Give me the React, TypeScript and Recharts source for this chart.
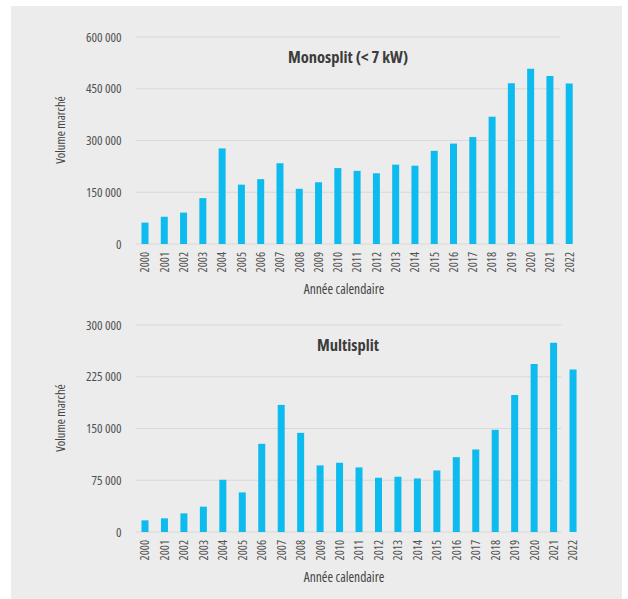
import React from 'react';
import { BarChart, Bar, XAxis, YAxis, CartesianGrid } from 'recharts';

// market volume per calendar year
const years = [
  '2000', '2001', '2002', '2003', '2004', '2005', '2006', '2007', '2008', '2009', '2010', '2011',
  '2012', '2013', '2014', '2015', '2016', '2017', '2018', '2019', '2020', '2021', '2022',
];
const monosplit = [
  62000, 79000, 91000, 133000, 277000, 172000, 188000, 234000, 160000, 179000, 220000, 212000,
  205000, 230000, 227000, 270000, 291000, 310000, 369000, 466000, 508000, 487000, 465000,
];
const multisplit = [
  16900, 19800, 27000, 36700, 75700, 57400, 127800, 184200, 143700, 96500, 100300, 93600,
  78600, 80100, 77600, 89200, 108500, 119600, 148100, 198700, 243600, 274400, 235400,
];
const monoTicks = [0, 150000, 300000, 450000, 600000];
const multiTicks = [0, 75000, 150000, 225000, 300000];

const FONT = "'Open Sans', 'DejaVu Sans Condensed', sans-serif";
const NARROW: React.CSSProperties = { fontFamily: FONT, fontStretch: '75%' };
const BAR = '#0dbbee';

const fmt = (n: number) => String(n).replace(/\B(?=(\d{3})+(?!\d))/g, ' ');

const YearTick = (props: any) => {
  const { x, y, payload } = props;
  return (
    <g transform={`translate(${x},${y + 8})`}>
      <text transform="rotate(-90)" textAnchor="end" dy="0.35em" fontSize={12} fill="#505050" style={NARROW}>
        {payload.value}
      </text>
    </g>
  );
};

const ValueTick = (props: any) => {
  const { x, y, payload } = props;
  return (
    <text x={x} y={y} dy="0.35em" textAnchor="end" fontSize={13} fill="#505050" style={NARROW}>
      {fmt(payload.value)}
    </text>
  );
};

interface PanelProps {
  title: string;
  values: number[];
  ticks: number[];
  top: number;
  right: number;
  gridWidth: number;
}

const Panel = ({ title, values, ticks, top, right, gridWidth }: PanelProps) => {
  const data = years.map((year, i) => ({ year, value: values[i] }));
  return (
    <>
      <div style={{ position: 'absolute', left: 0, top }}>
        <BarChart width={628} height={300} data={data} margin={{ top: 37, right, bottom: 0, left: 80 }}>
          <CartesianGrid vertical={false} x={135.5} width={gridWidth} stroke="#d8d8d8" />
          <XAxis
            dataKey="year"
            height={56}
            axisLine={false}
            tickLine={false}
            tickSize={0}
            tickMargin={0}
            interval={0}
            tick={<YearTick />}
          />
          <YAxis
            width={55.5}
            domain={[0, ticks[ticks.length - 1]]}
            ticks={ticks}
            axisLine={false}
            tickLine={false}
            tickSize={0}
            tickMargin={14}
            tick={<ValueTick />}
          />
          <Bar dataKey="value" fill={BAR} barSize={7} isAnimationActive={false} />
        </BarChart>
      </div>
      <div style={{ ...NARROW, position: 'absolute', left: 348, top: top + 56, transform: 'translate(-50%,-50%)', fontWeight: 'bold', fontSize: 16.5, color: '#3c3c3c', whiteSpace: 'nowrap' }}>
        {title}
      </div>
      <div style={{ ...NARROW, position: 'absolute', left: 344, top: top + 289, transform: 'translate(-50%,-50%)', fontSize: 13.5, color: '#444', whiteSpace: 'nowrap' }}>
        Année calendaire
      </div>
      <div style={{ ...NARROW, position: 'absolute', left: 60, top: top + 130, transform: 'translate(-50%,-50%) rotate(-90deg)', fontSize: 12.5, color: '#444', whiteSpace: 'nowrap' }}>
        Volume marché
      </div>
    </>
  );
};

export default function App() {
  return (
    <div style={{ position: 'absolute', left: 0, top: 0, width: 628, height: 599, background: '#fff', overflow: 'hidden' }}>
      <div style={{ position: 'absolute', left: 11, top: 6, width: 611, height: 593, background: '#ececec' }} />
      <Panel title="Monosplit (< 7 kW)" values={monosplit} ticks={monoTicks} top={0} right={49} gridWidth={425} />
      <Panel title="Multisplit" values={multisplit} ticks={multiTicks} top={288} right={45} gridWidth={426} />
    </div>
  );
}
